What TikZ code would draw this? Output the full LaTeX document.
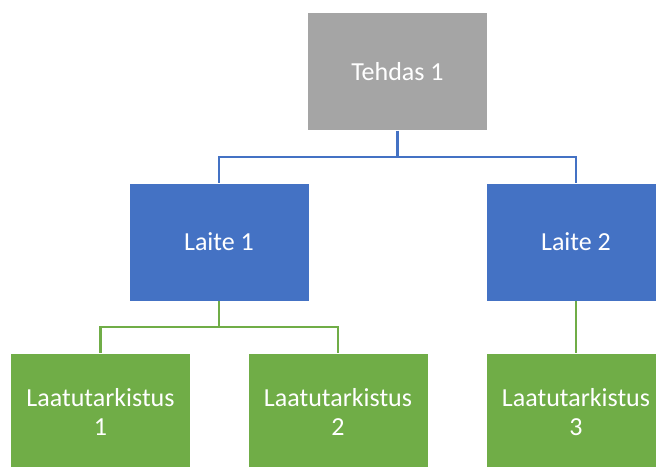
\documentclass[tikz,border=0pt]{standalone}
\usepackage{fontspec}
\setmainfont{Carlito}
\definecolor{boxgray}{HTML}{A5A5A5}
\definecolor{boxblue}{HTML}{4472C4}
\definecolor{boxgreen}{HTML}{70AD47}
\begin{document}
\begin{tikzpicture}[x=1pt,y=-1pt,
  unit/.style={draw=white,line width=0.6pt,minimum width=180pt,minimum height=118pt,
    text=white,align=center,inner sep=0pt,
    font=\fontsize{26}{29}\selectfont},
  factory/.style={unit,fill=boxgray},
  device/.style={unit,fill=boxblue},
  check/.style={unit,fill=boxgreen},
  bluelink/.style={draw=boxblue,line width=2.2pt},
  greenlink/.style={draw=boxgreen,line width=2.2pt}]
\useasboundingbox (0,0) rectangle (656,466);
\clip (0,0) rectangle (656,466);
\node[factory] (t) at (397.5,71.5) {Tehdas 1};
\node[device] (l1) at (219,242) {Laite 1};
\node[device] (l2) at (576,242) {Laite 2};
\node[check] (q1) at (100.5,412) {Laatutarkistus\\1};
\node[check] (q2) at (338,412) {Laatutarkistus\\2};
\node[check] (q3) at (576,412) {Laatutarkistus\\3};
\draw[bluelink] (t.south) -- ++(0,26) -| (l1.north);
\draw[bluelink] (t.south) -- ++(0,26) -| (l2.north);
\draw[greenlink] (l1.south) -- ++(0,26) -| (q1.north);
\draw[greenlink] (l1.south) -- ++(0,26) -| (q2.north);
\draw[greenlink] (l2.south) -- (q3.north);
\end{tikzpicture}
\end{document}
